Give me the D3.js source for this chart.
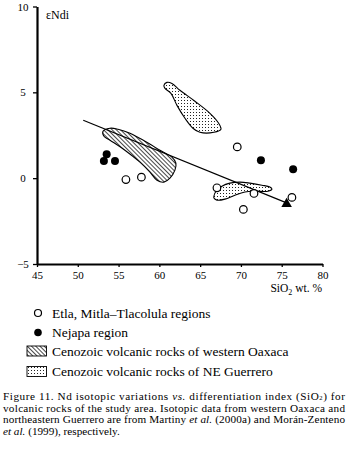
<!DOCTYPE html>
<html><head><meta charset="utf-8">
<script src="https://cdn.jsdelivr.net/npm/d3@7"></script>
<style>
body{margin:0;background:#fff;}
svg, svg text{font-family:"Liberation Serif","Tinos","Times New Roman","DejaVu Serif",serif !important;}
</style></head>
<body>
<script>
// ---- data ----
const xTicks = [45,50,55,60,65,70,75,80];
const yTicks = [-5,0,5,10];
const etlaX = [55.9,57.8,69.55,67.06,71.6,70.3,76.25];
const etlaY = [-0.08,0.06,1.82,-0.56,-0.89,-1.82,-1.12];
const nejapaX = [53.54,53.2,54.56,72.45,76.4];
const nejapaY = [1.40,1.0,1.0,1.05,0.52];
const trendX = [50.67,75.6];
const trendY = [3.37,-1.44];
const oaxacaX = [53.09,53.95,54.93,56.40,58.24,60.07,61.54,62.03,61.91,61.30,60.56,59.71,58.85,57.62,55.78,53.95,53.21];
const oaxacaY = [2.73,2.91,2.85,2.62,2.15,1.63,1.22,0.87,0.47,0.0,-0.23,-0.12,0.35,0.93,1.63,2.21,2.44];
const guerreroUpX = [60.56,60.93,61.54,62.52,64.36,66.20,67.18,67.55,66.69,64.97,64.12,63.14,62.16,61.42,60.69];
const guerreroUpY = [5.41,5.58,5.52,5.12,4.48,3.78,3.26,2.85,2.67,2.67,2.91,3.49,4.24,4.94,5.23];
const guerreroLoX = [66.69,66.94,67.67,68.65,69.88,71.10,72.57,73.55,73.80,73.31,71.72,70.49,69.26,68.04,67.06,66.69];
const guerreroLoY = [-1.05,-0.76,-0.47,-0.29,-0.23,-0.29,-0.41,-0.52,-0.64,-0.76,-0.76,-0.81,-0.99,-1.22,-1.28,-1.16];
const legendLabels = ["Etla, Mitla\u2013Tlacolula regions","Nejapa region","Cenozoic volcanic rocks of western Oaxaca","Cenozoic volcanic rocks of NE Guerrero"];

const W=348,H=449;
const svg=d3.select("body").append("svg").attr("width",W).attr("height",H);
const defs=svg.append("defs");
const hp=defs.append("pattern").attr("id","hatch").attr("patternUnits","userSpaceOnUse").attr("width",3).attr("height",3).attr("patternTransform","rotate(45)");
hp.append("rect").attr("width",3).attr("height",3).attr("fill","#fff");
hp.append("line").attr("x1",0).attr("y1",0.5).attr("x2",3).attr("y2",0.5).attr("stroke","#333").attr("stroke-width",0.9);
const dp=defs.append("pattern").attr("id","dots").attr("patternUnits","userSpaceOnUse").attr("width",3).attr("height",3);
dp.append("rect").attr("width",3).attr("height",3).attr("fill","#fff");
dp.append("rect").attr("x",1).attr("y",1).attr("width",1).attr("height",1).attr("fill","#222");

const x=d3.scaleLinear().domain([45,80]).range([37,322.5]);
const y=d3.scaleLinear().domain([-5,10]).range([264,6.5]);

// axes
const xa=svg.append("g").attr("transform","translate(0,264)")
  .call(d3.axisBottom(x).tickValues(xTicks).tickSize(3).tickPadding(4).tickSizeOuter(0));
xa.attr("font-family",null);
xa.select(".domain").attr("stroke","#000").attr("stroke-width",2.2);
xa.selectAll(".tick line").attr("stroke","#000").attr("stroke-width",1.3);
xa.selectAll("text").attr("font-size",11).attr("fill","#000");

const ya=svg.append("g").attr("transform","translate(37,0)")
  .call(d3.axisLeft(y).tickValues(yTicks).tickSize(4).tickSizeOuter(0));
ya.attr("font-family",null);
ya.select(".domain").attr("stroke","#000").attr("stroke-width",2.2);
ya.selectAll(".tick line").attr("stroke","#000").attr("stroke-width",1.3);
ya.selectAll("text").attr("font-size",11).attr("fill","#000")
  .attr("text-anchor","middle").attr("x",-14);

svg.append("text").attr("x",46).attr("y",19).attr("font-size",12).text("\u03B5Ndi");
const xl=svg.append("text").attr("x",322).attr("y",292).attr("font-size",11.5).attr("text-anchor","end");
xl.append("tspan").text("SiO");
xl.append("tspan").attr("font-size",8).attr("dy",3).text("2");
xl.append("tspan").attr("dy",-3).text(" wt. %");

// polygons
const line=d3.line().x(d=>x(d[0])).y(d=>y(d[1])).curve(d3.curveCatmullRomClosed.alpha(0.5));
function poly(xs,ys,fill){
  svg.append("path").attr("d",line(xs.map((v,i)=>[v,ys[i]]))).attr("fill",fill).attr("stroke","#000").attr("stroke-width",1.1);
}
poly(oaxacaX,oaxacaY,"url(#hatch)");
poly(guerreroUpX,guerreroUpY,"url(#dots)");
poly(guerreroLoX,guerreroLoY,"url(#dots)");

// trend arrow
svg.append("line").attr("x1",x(trendX[0])).attr("y1",y(trendY[0])).attr("x2",x(trendX[1])).attr("y2",y(trendY[1]))
  .attr("stroke","#000").attr("stroke-width",1.2);
svg.append("path").attr("d",d3.symbol(d3.symbolTriangle,48)()).attr("transform",`translate(${x(trendX[1])},${y(trendY[1])+1})`).attr("fill","#000");

// points
svg.selectAll("circle.etla").data(etlaX).join("circle").attr("class","etla")
  .attr("cx",d=>x(d)).attr("cy",(d,i)=>y(etlaY[i])).attr("r",3.8).attr("fill","#fff").attr("stroke","#000").attr("stroke-width",1.2);
svg.selectAll("circle.nej").data(nejapaX).join("circle").attr("class","nej")
  .attr("cx",d=>x(d)).attr("cy",(d,i)=>y(nejapaY[i])).attr("r",4).attr("fill","#000");

// legend
const lg=svg.append("g").attr("font-size",13.5);
lg.append("circle").attr("cx",38).attr("cy",313).attr("r",3.5).attr("fill","#fff").attr("stroke","#000").attr("stroke-width",1.2);
lg.append("circle").attr("cx",38).attr("cy",332.5).attr("r",3.8).attr("fill","#000");
lg.append("rect").attr("x",27).attr("y",346).attr("width",19.5).attr("height",10).attr("fill","url(#hatch)").attr("stroke","#000").attr("stroke-width",0.9);
lg.append("rect").attr("x",27).attr("y",366.5).attr("width",19.5).attr("height",10).attr("fill","url(#dots)").attr("stroke","#000").attr("stroke-width",0.9);
const ly=[317.5,337,356,375.5];
legendLabels.forEach((t,i)=>lg.append("text").attr("x",52).attr("y",ly[i]).text(t));

// caption
const cap=svg.append("g").attr("font-size",11.2);
function capLine(yy,parts,justify){
  const t=cap.append("text").attr("x",3).attr("y",yy);
  parts.forEach(p=>{
    const s=t.append("tspan").text(p.t);
    if(p.i) s.attr("font-style","italic");
    if(p.sub) s.attr("font-size",6.5).attr("dy",0.8);
    if(p.up) s.attr("dy",-0.8);
  });
  if(justify) t.attr("textLength",342).attr("lengthAdjust","spacing");
}
capLine(399.5,[{t:"Figure 11. Nd isotopic variations "},{t:"vs.",i:1},{t:" differentiation index (SiO"},{t:"2",sub:1},{t:") for",up:1}],true);
capLine(411.5,[{t:"volcanic rocks of the study area. Isotopic data from western Oaxaca and"}],true);
capLine(423,[{t:"northeastern Guerrero are from Martiny "},{t:"et al.",i:1},{t:" (2000a) and Mor\u00e1n-Zenteno"}],true);
capLine(434.5,[{t:"et al.",i:1},{t:" (1999), respectively."}],false);
</script>
</body></html>
